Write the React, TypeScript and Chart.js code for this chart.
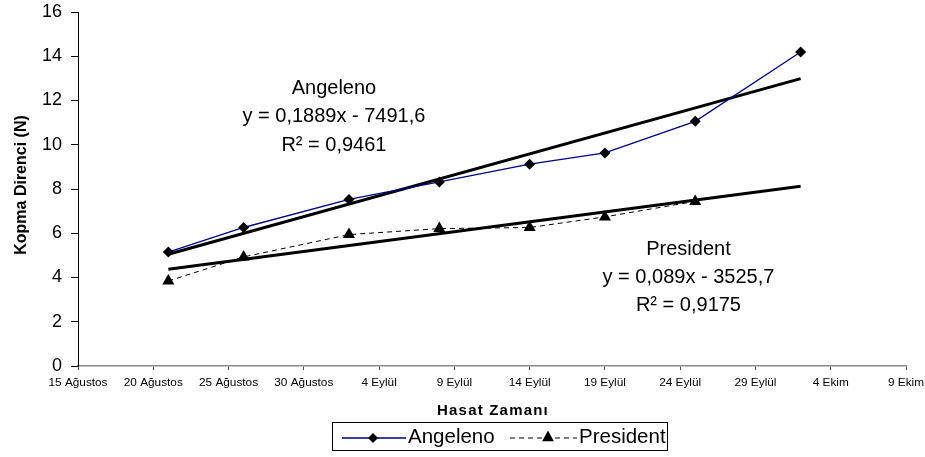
import React, { useEffect, useRef } from "react";
import { Chart, registerables } from "chart.js";

Chart.register(...registerables);

const FONT = '"Liberation Sans", Arial, Helvetica, sans-serif';

// ---- data ----
const baseDate = "2008-08-15";
const harvestDates = [
  "2008-08-21",
  "2008-08-26",
  "2008-09-02",
  "2008-09-08",
  "2008-09-14",
  "2008-09-19",
  "2008-09-25",
  "2008-10-02",
];
const angelenoValues = [5.15, 6.26, 7.53, 8.32, 9.12, 9.63, 11.06, 14.19];
const presidentValues = [3.84, 4.93, 5.94, 6.21, 6.26, 6.74, 7.44];
const trendDates = ["2008-08-21", "2008-10-02"];
const angelenoTrend = [5.05, 12.99];
const presidentTrend = [4.37, 8.12];
const xTickLabels = [
  "15 Ağustos",
  "20 Ağustos",
  "25 Ağustos",
  "30 Ağustos",
  "4 Eylül",
  "9 Eylül",
  "14 Eylül",
  "19 Eylül",
  "24 Eylül",
  "29 Eylül",
  "4 Ekim",
  "9 Ekim",
];
const yMin = 0;
const yMax = 16;
const yStep = 2;
const xStep = 5;
const seriesNames = ["Angeleno", "President"];
const angelenoEquation = ["Angeleno", "y = 0,1889x - 7491,6", "R² = 0,9461"];
const presidentEquation = ["President", "y = 0,089x - 3525,7", "R² = 0,9175"];
const xTitle = "Hasat Zamanı";
const yTitle = "Kopma Direnci (N)";

function dayOffset(d: string): number {
  return Math.round((Date.parse(d) - Date.parse(baseDate)) / 86400000);
}

function drawDiamond(ctx: CanvasRenderingContext2D, x: number, y: number, r: number) {
  ctx.beginPath();
  ctx.moveTo(x, y - r);
  ctx.lineTo(x + r, y);
  ctx.lineTo(x, y + r);
  ctx.lineTo(x - r, y);
  ctx.closePath();
  ctx.fill();
}

function drawTriangle(ctx: CanvasRenderingContext2D, x: number, y: number, r: number) {
  ctx.beginPath();
  ctx.moveTo(x, y - r);
  ctx.lineTo(x + r * 0.9, y + r * 0.65);
  ctx.lineTo(x - r * 0.9, y + r * 0.65);
  ctx.closePath();
  ctx.fill();
}

const overlayPlugin = {
  id: "overlay",
  afterDraw(chart: any) {
    const ctx: any = chart.ctx;
    const xs = chart.scales.x;
    const ys = chart.scales.y;
    ctx.save();
    ctx.fillStyle = "#000";
    ctx.textAlign = "center";
    ctx.textBaseline = "middle";

    // axis titles
    ctx.font = `bold 15px ${FONT}`;
    if ("letterSpacing" in ctx) ctx.letterSpacing = "1.2px";
    ctx.fillText(xTitle, (xs.left + xs.right) / 2 + 1, 411);
    if ("letterSpacing" in ctx) ctx.letterSpacing = "0px";
    ctx.save();
    ctx.translate(22, 185);
    ctx.rotate(-Math.PI / 2);
    ctx.font = `bold 16px ${FONT}`;
    ctx.fillText(yTitle, 0, 0);
    ctx.restore();

    // trendline equations
    ctx.font = `20px ${FONT}`;
    const ax = xs.getPixelForValue(17.0);
    const ay = ys.getPixelForValue(12.54);
    angelenoEquation.forEach((t, i) => ctx.fillText(t, ax, ay + i * 28.4));
    const px = xs.getPixelForValue(40.55);
    const py = ys.getPixelForValue(5.27);
    presidentEquation.forEach((t, i) => ctx.fillText(t, px, py + i * 28.2));

    // legend
    ctx.strokeStyle = "#000";
    ctx.lineWidth = 1;
    ctx.strokeRect(332.5, 422.5, 335, 28);
    const ly = 438;
    ctx.beginPath();
    ctx.strokeStyle = "#000080";
    ctx.lineWidth = 1.3;
    ctx.moveTo(342, ly);
    ctx.lineTo(406, ly);
    ctx.stroke();
    ctx.fillStyle = "#000";
    drawDiamond(ctx, 373, ly, 5);
    ctx.beginPath();
    ctx.strokeStyle = "#000";
    ctx.lineWidth = 1;
    ctx.setLineDash([5, 4]);
    ctx.moveTo(510, ly);
    ctx.lineTo(577, ly);
    ctx.stroke();
    ctx.setLineDash([]);
    drawTriangle(ctx, 548, ly - 1, 6.5);
    ctx.font = `20.5px ${FONT}`;
    ctx.textAlign = "left";
    ctx.fillText(seriesNames[0], 408, 437);
    ctx.fillText(seriesNames[1], 579, 437);
    ctx.restore();
  },
};

export default function App() {
  const canvasRef = useRef<HTMLCanvasElement | null>(null);

  useEffect(() => {
    document.body.style.margin = "0";
    const canvas = canvasRef.current;
    if (!canvas) return;

    const angelenoData = harvestDates.map((d, i) => ({ x: dayOffset(d), y: angelenoValues[i] }));
    const presidentData = presidentValues.map((v, i) => ({ x: dayOffset(harvestDates[i]), y: v }));
    const angelenoTrendData = trendDates.map((d, i) => ({ x: dayOffset(d), y: angelenoTrend[i] }));
    const presidentTrendData = trendDates.map((d, i) => ({ x: dayOffset(d), y: presidentTrend[i] }));
    const xMax = (xTickLabels.length - 1) * xStep;

    const chart = new Chart(canvas, {
      type: "line",
      data: {
        datasets: [
          {
            label: seriesNames[0],
            data: angelenoData,
            borderColor: "#000080",
            backgroundColor: "#000",
            borderWidth: 1.3,
            pointStyle: "rectRot",
            pointRadius: 5.5,
            pointBorderWidth: 0,
            pointBackgroundColor: "#000",
            fill: false,
            tension: 0,
          },
          {
            label: seriesNames[1],
            data: presidentData,
            borderColor: "#000",
            backgroundColor: "#000",
            borderWidth: 1,
            borderDash: [5, 4],
            pointStyle: "triangle",
            pointRadius: 7,
            pointBorderWidth: 0,
            pointBackgroundColor: "#000",
            fill: false,
            tension: 0,
          },
          {
            label: "Angeleno trend",
            data: angelenoTrendData,
            borderColor: "#000",
            borderWidth: 3,
            pointRadius: 0,
            fill: false,
          },
          {
            label: "President trend",
            data: presidentTrendData,
            borderColor: "#000",
            borderWidth: 3,
            pointRadius: 0,
            fill: false,
          },
        ],
      },
      options: {
        responsive: false,
        animation: false,
        layout: { padding: { top: 12, right: 19, left: 0, bottom: 0 } },
        plugins: {
          legend: { display: false },
          tooltip: { enabled: false },
          title: { display: false },
        },
        scales: {
          x: {
            type: "linear",
            min: 0,
            max: xMax,
            afterFit: (scale: any) => {
              scale.height = 91;
              scale.paddingLeft = 0;
              scale.paddingRight = 0;
            },
            afterBuildTicks: (scale: any) => {
              scale.ticks = xTickLabels.map((_, i) => ({ value: i * xStep }));
            },
            ticks: {
              autoSkip: false,
              maxRotation: 0,
              minRotation: 0,
              padding: 6,
              color: "#000",
              font: { family: FONT, size: 11.8 },
              callback: (value: any) => xTickLabels[Math.round(Number(value) / xStep)] ?? "",
            },
            grid: {
              display: true,
              drawOnChartArea: false,
              drawTicks: true,
              tickLength: 4,
              color: "#555",
            },
            border: { display: true, color: "#888", width: 1.5 },
            title: { display: false },
          },
          y: {
            type: "linear",
            min: yMin,
            max: yMax,
            afterFit: (scale: any) => {
              scale.width = 78;
              scale.paddingTop = 0;
              scale.paddingBottom = 0;
            },
            ticks: {
              stepSize: yStep,
              padding: 9,
              color: "#000",
              font: { family: FONT, size: 18 },
            },
            grid: {
              display: true,
              drawOnChartArea: false,
              drawTicks: true,
              tickLength: 7,
              color: "#000",
            },
            border: { display: true, color: "#000", width: 1 },
            title: { display: false },
          },
        },
      },
      plugins: [overlayPlugin],
    });

    return () => chart.destroy();
  }, []);

  return (
    <div style={{ width: 925, height: 457, background: "#fff" }}>
      <canvas ref={canvasRef} width={925} height={457} style={{ display: "block" }} />
    </div>
  );
}
